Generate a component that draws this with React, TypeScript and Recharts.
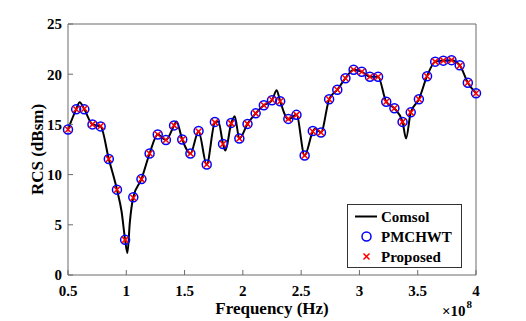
// @ts-nocheck
import React from 'react';
import { ComposedChart, Line, Scatter, XAxis, YAxis, Label } from 'recharts';

// frequency in units of 1e8 Hz, RCS in dBsm
const freqPts = [
    0.5, 0.57, 0.64, 0.71, 0.78, 0.85, 0.92, 0.99, 1.06, 1.13, 1.2, 1.27, 1.34, 1.41, 1.48, 1.55, 1.62,
    1.69, 1.76, 1.83, 1.9, 1.97, 2.04, 2.11, 2.18, 2.25, 2.32, 2.39, 2.46, 2.53, 2.6, 2.67, 2.74, 2.81,
    2.88, 2.95, 3.02, 3.09, 3.16, 3.23, 3.3, 3.37, 3.44, 3.51, 3.58, 3.65, 3.72, 3.79, 3.86, 3.93, 4.0,
];
const pmchwtVals = [
    14.5, 16.5, 16.5, 15.0, 14.8, 11.55, 8.5, 3.5, 7.75, 9.55, 12.1, 14.0, 13.45, 14.9, 13.5, 12.1, 14.35,
    11.0, 15.25, 13.05, 15.15, 13.6, 15.05, 16.1, 16.9, 17.4, 17.3, 15.55, 15.95, 11.9, 14.35, 14.2, 17.5, 18.45,
    19.6, 20.45, 20.25, 19.75, 19.75, 17.25, 16.6, 15.25, 16.2, 17.5, 19.8, 21.25, 21.35, 21.4, 20.9, 19.15, 18.1,
];
const proposedVals = [
    14.5, 16.5, 16.55, 15.0, 14.85, 11.55, 8.5, 3.5, 7.7, 9.55, 12.1, 14.0, 13.45, 14.9, 13.5, 12.1, 14.3,
    11.0, 15.2, 13.05, 15.1, 13.6, 15.05, 16.1, 16.9, 17.45, 17.3, 15.55, 15.95, 11.9, 14.3, 14.2, 17.5, 18.45,
    19.6, 20.45, 20.25, 19.75, 19.75, 17.25, 16.6, 15.25, 16.2, 17.5, 19.8, 21.25, 21.35, 21.4, 20.85, 19.15, 18.1,
];

// Comsol reference curve (denser, with peaks/dips between the marker points)
const comsolFreq = [
    0.5, 0.57, 0.6, 0.64, 0.71, 0.78, 0.85, 0.92, 0.96, 0.99, 1.01, 1.03, 1.06, 1.13, 1.2, 1.27, 1.34, 1.41,
    1.43, 1.48, 1.55, 1.62, 1.69, 1.76, 1.79, 1.83, 1.85, 1.9, 1.93, 1.97, 2.04, 2.11, 2.18, 2.25, 2.29, 2.32,
    2.39, 2.46, 2.53, 2.6, 2.62, 2.67, 2.74, 2.81, 2.88, 2.95, 3.02, 3.09, 3.16, 3.23, 3.3, 3.37, 3.4, 3.44,
    3.51, 3.58, 3.65, 3.72, 3.79, 3.86, 3.93, 4.0,
];
const comsolVals = [
    14.5, 16.5, 17.2, 16.5, 15.0, 14.8, 11.55, 8.5, 6.3, 3.5, 2.2, 5.2, 7.75, 9.55, 12.1, 14.0, 13.45, 14.9,
    15.3, 13.5, 12.1, 14.3, 11.0, 15.2, 15.3, 13.05, 12.4, 15.1, 15.8, 13.6, 15.05, 16.1, 16.9, 17.4, 18.4, 17.3,
    15.5, 15.95, 11.9, 14.3, 14.6, 14.2, 17.5, 18.45, 19.6, 20.45, 20.25, 19.75, 19.75, 17.25, 16.6, 15.25, 13.6, 16.2,
    17.5, 19.8, 21.25, 21.35, 21.4, 20.9, 19.15, 18.1,
];

const xTicks = [0.5, 1, 1.5, 2, 2.5, 3, 3.5, 4];
const yTicks = [0, 5, 10, 15, 20, 25];

const comsolData = comsolFreq.map((x, i) => ({ x, y: comsolVals[i] }));
const pmchwtData = freqPts.map((x, i) => ({ x, y: pmchwtVals[i] }));
const proposedData = freqPts.map((x, i) => ({ x, y: proposedVals[i] }));

const FONT = "'Liberation Serif', 'DejaVu Serif', serif";
const AXIS = '#6b6b6b';
const txt = { fontFamily: FONT, fontWeight: 700 };
const tickStyle = { fill: '#000', fontSize: 15, style: txt };

const CircleMark = (props) => (
    <circle cx={props.cx} cy={props.cy} r={4.5} fill="none" stroke="#0000ff" strokeWidth={1.5} />
);

const CrossMark = (props) => {
    const { cx, cy } = props;
    const s = 3;
    return (
        <g stroke="#ff0000" strokeWidth={1.5}>
            <line x1={cx - s} y1={cy - s} x2={cx + s} y2={cy + s} />
            <line x1={cx - s} y1={cy + s} x2={cx + s} y2={cy - s} />
        </g>
    );
};

const ChartLegend = () => (
    <svg width={115} height={64} style={{ position: 'absolute', left: 347, top: 204 }}>
        <rect x={0.5} y={0.5} width={114} height={63} fill="#fff" stroke="#333" strokeWidth={1} />
        <line x1={8} y1={12.5} x2={30} y2={12.5} stroke="#000" strokeWidth={2} />
        <circle cx={19.5} cy={32.5} r={4.5} fill="none" stroke="#0000ff" strokeWidth={1.5} />
        <g stroke="#ff0000" strokeWidth={1.5}>
            <line x1={16.5} y1={49.5} x2={22.5} y2={55.5} />
            <line x1={16.5} y1={55.5} x2={22.5} y2={49.5} />
        </g>
        <g fontSize={15} fill="#000" style={txt}>
            <text x={34} y={18}>Comsol</text>
            <text x={34} y={38}>PMCHWT</text>
            <text x={34} y={58}>Proposed</text>
        </g>
    </svg>
);

const App = () => {
    return (
        <div style={{ position: 'absolute', left: 0, top: 0, width: 526, height: 321, background: '#fff' }}>
            <ComposedChart width={526} height={321} margin={{ top: 0, right: 0, bottom: 0, left: 0 }}>
                <XAxis
                    dataKey="x"
                    type="number"
                    domain={[0.5, 4]}
                    ticks={xTicks}
                    height={46}
                    stroke={AXIS}
                    tickSize={-5}
                    tickMargin={15}
                    tick={tickStyle}
                >
                    <Label
                        content={({ viewBox }) => (
                            <text
                                x={viewBox.x + viewBox.width / 2}
                                y={314}
                                textAnchor="middle"
                                fontSize={17}
                                fill="#000"
                                style={txt}
                            >
                                Frequency (Hz)
                            </text>
                        )}
                    />
                    <Label
                        content={() => (
                            <text x={442} y={316} fontSize={15} fill="#000" style={txt}>
                                ×10
                                <tspan dx={1} dy={-8} fontSize={11}>8</tspan>
                            </text>
                        )}
                    />
                </XAxis>
                <XAxis
                    xAxisId="top"
                    orientation="top"
                    type="number"
                    domain={[0.5, 4]}
                    ticks={xTicks}
                    height={24}
                    stroke={AXIS}
                    tickSize={-5}
                    tick={false}
                />
                <YAxis
                    dataKey="y"
                    type="number"
                    domain={[0, 25]}
                    ticks={yTicks}
                    width={68}
                    stroke={AXIS}
                    tickSize={-5}
                    tickMargin={11}
                    tick={tickStyle}
                >
                    <Label
                        content={({ viewBox }) => {
                            const cx = 37;
                            const cy = viewBox.y + viewBox.height / 2;
                            return (
                                <text
                                    x={cx}
                                    y={cy}
                                    transform={`rotate(-90 ${cx} ${cy})`}
                                    textAnchor="middle"
                                    dominantBaseline="central"
                                    fontSize={17}
                                    fill="#000"
                                    style={txt}
                                >
                                    RCS (dBsm)
                                </text>
                            );
                        }}
                    />
                </YAxis>
                <YAxis
                    yAxisId="right"
                    orientation="right"
                    type="number"
                    domain={[0, 25]}
                    ticks={yTicks}
                    width={50}
                    stroke={AXIS}
                    tickSize={-5}
                    tick={false}
                />
                <Line
                    data={comsolData}
                    dataKey="y"
                    type="monotone"
                    stroke="#000"
                    strokeWidth={2}
                    dot={false}
                    activeDot={false}
                    isAnimationActive={false}
                />
                <Scatter data={pmchwtData} dataKey="y" shape={CircleMark} isAnimationActive={false} />
                <Scatter data={proposedData} dataKey="y" shape={CrossMark} isAnimationActive={false} />
            </ComposedChart>
            <ChartLegend />
        </div>
    );
};

export default App;
